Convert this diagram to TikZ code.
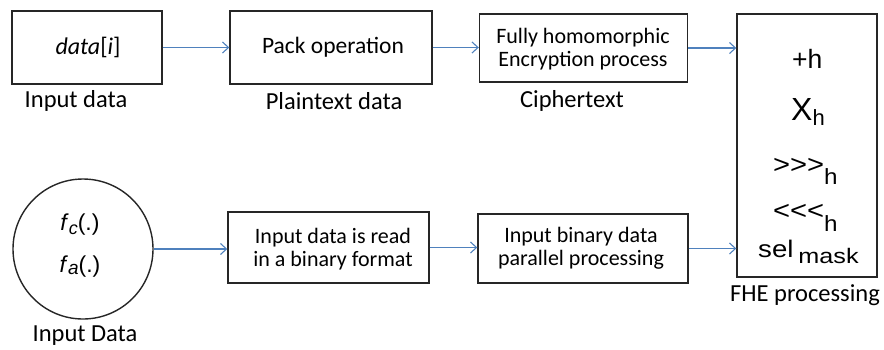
\documentclass[tikz,border=0pt]{standalone}
\usepackage{fontspec}
\usepackage{graphicx}
\setmainfont{Carlito}
\newfontfamily\arialf{Liberation Sans}
\usetikzlibrary{arrows.meta}
\definecolor{arrblue}{RGB}{79,129,189}
\newcommand{\xsc}[2]{\scalebox{#1}[1]{#2}}
\newcommand{\fsz}[1]{\fontsize{#1}{#1}\selectfont}
\begin{document}
\begin{tikzpicture}[x=1pt,y=-1pt,
  box/.style={draw=black!85,line width=1.4pt,inner sep=0pt,align=center},
  lbl/.style={inner sep=0pt,font=\fontsize{24.5}{26}\selectfont},
  btxt/.style={inner sep=0pt,align=center,font=\fontsize{22}{24}\selectfont},
  op/.style={inner sep=0pt,anchor=base west,font=\arialf},
  flow/.style={draw=arrblue,line width=1.1pt,-{Straight Barb[length=6pt,width=11pt,line width=1.1pt]}}]
\useasboundingbox (0,0) rectangle (884,349);
% top row
\node[box,minimum width=150pt,minimum height=73pt] (b1) at (87,47.5) {};
\node[inner sep=0pt,font=\fontsize{24}{26}\selectfont] (t1) at (88,47) {\textit{data}[\textit{i}]};
\node[lbl] (l1) at (76,101) {Input data};
\node[box,minimum width=202pt,minimum height=73pt] (b2) at (331,47.5) {};
\node[inner sep=0pt,font=\fontsize{23.5}{26}\selectfont] (t2) at (333,47) {Pack operation};
\node[lbl] (l2) at (334,101) {Plaintext data};
\node[box,minimum width=208pt,minimum height=68pt] (b3) at (583.5,48) {};
\node[btxt] (t3) at (583,49) {Fully homomorphic\\[-1pt]Encryption process};
\node[lbl] (l3) at (572,101) {Ciphertext};
\node[box,minimum width=140pt,minimum height=263pt] (fhe) at (807,145.5) {};
\node[lbl] (l4) at (805,295) {FHE processing};
\node[op] (o1) at (792,68) {\fsz{26.5}{+h}};
\node[op] (o2) at (791,120) {\fsz{32}X\raisebox{-5pt}{\fsz{22}h}};
\node[op] (o3) at (773,173.5) {\fsz{26}\xsc{1.12}{>>>}\raisebox{-11pt}{\fsz{22}\xsc{1.1}{h}}};
\node[op] (o4) at (773,219.5) {\fsz{26}\xsc{1.12}{<<<}\raisebox{-12pt}{\fsz{22}\xsc{1.1}{h}}};
\node[op] (o5) at (758,257) {\fsz{24}\xsc{1.15}{sel}\hspace{5pt}\raisebox{-6pt}{\fsz{21}\xsc{1.2}{mask}}};
% bottom row
\node[draw=black!85,line width=1.4pt,circle,minimum size=140pt,inner sep=0pt] (c) at (83,249) {};
\node[inner sep=0pt,font=\arialf\fontsize{23}{24}\selectfont] (f1) at (80,225) {\textit{f}\raisebox{-4pt}{\textit{\fontsize{18}{18}\selectfont c}}(.)};
\node[inner sep=0pt,font=\arialf\fontsize{23}{24}\selectfont] (f2) at (80,267) {\textit{f}\raisebox{-2pt}{\textit{\fontsize{19}{18}\selectfont a}}(.)};
\node[lbl] (l5) at (85,336) {Input Data};
\node[box,minimum width=201pt,minimum height=71pt] (b4) at (328.5,247.5) {};
\node[btxt] (t4) at (333,249) {Input data is read\\[-1pt]in a binary format};
\node[box,minimum width=210pt,minimum height=69pt] (b5) at (583,248.5) {};
\node[btxt] (t5) at (581,248) {Input binary data\\[-1pt]parallel processing};
% arrows
\draw[flow] (b1.east) -- (b2.west);
\draw[flow] (b2.east) -- (b2.east -| b3.west);
\draw[flow] (b3.east) -- (b3.east -| fhe.west);
\draw[flow] (c.east) -- (c.east -| b4.west);
\draw[flow] (b4.east) -- (b4.east -| b5.west);
\draw[flow] (b5.east) -- (b5.east -| fhe.west);
\end{tikzpicture}
\end{document}
